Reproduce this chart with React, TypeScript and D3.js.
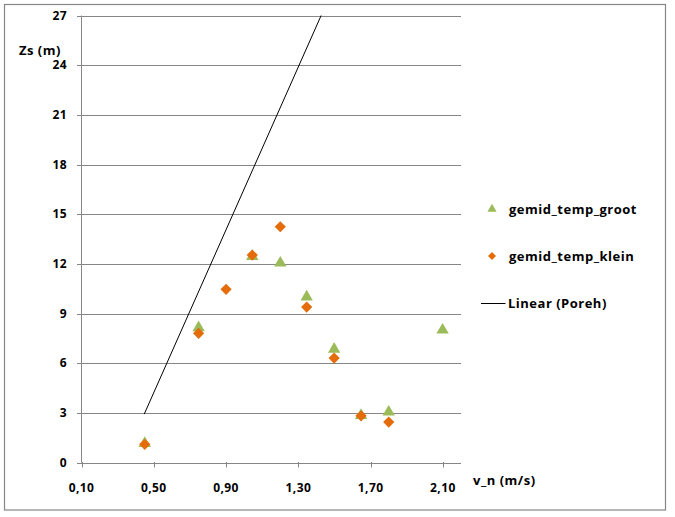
import React from "react";
import * as d3 from "d3";

const grootX = [0.45, 0.748, 1.045, 1.2, 1.346, 1.498, 1.647, 1.8, 2.098];
const grootY = [1.15, 8.15, 12.45, 12.05, 10.0, 6.85, 2.85, 3.05, 8.0];
const kleinX = [0.45, 0.748, 0.9, 1.045, 1.2, 1.346, 1.498, 1.647, 1.8];
const kleinY = [1.1, 7.8, 10.46, 12.53, 14.24, 9.39, 6.31, 2.82, 2.44];
const porehX = [0.447, 1.426];
const porehY = [2.92, 27];
const xTicks = [0.1, 0.5, 0.9, 1.3, 1.7, 2.1];
const yTicks = [0, 3, 6, 9, 12, 15, 18, 21, 24, 27];
const seriesNames = ["gemid_temp_groot", "gemid_temp_klein", "Linear (Poreh)"];

const W = 675;
const H = 517;
const GREEN = "#9BBB59";
const ORANGE = "#E46C0A";
const GRID = "#868686";
const FONT = "'Open Sans', 'Liberation Sans', sans-serif";

export default function App() {
  const x = d3.scaleLinear().domain([0.1, 2.2]).range([81.5, 461]);
  const y = d3.scaleLinear().domain([0, 27]).range([462.5, 15.5]);
  const fmt = (v: number) => d3.format(".2f")(v).replace(".", ",");
  const tri = d3.symbol().type(d3.symbolTriangle).size(66);
  const dia = (s: number) => `M0,${-s}L${s},0L0,${s}L${-s},0Z`;
  const triLeg = d3.symbol().type(d3.symbolTriangle).size(36);
  const line = d3
    .line<number>()
    .x((_, i) => x(porehX[i]))
    .y((_, i) => y(porehY[i]));

  const labelProps = { fontSize: 13, fontWeight: "bold", fill: "#000", letterSpacing: 0.5 } as const;

  return (
    <svg
      width={W}
      height={H}
      style={{ position: "absolute", left: 0, top: 0, background: "#fff" }}
      fontFamily={FONT}
    >
      <rect x={0} y={0} width={W} height={H} fill="#fff" />
      <rect x={4.5} y={4.5} width={661} height={505.5} fill="none" stroke={GRID} strokeWidth={1.2} />
      {yTicks.map((t) => (
        <g key={t}>
          <line x1={77} x2={461} y1={Math.round(y(t)) + 0.5} y2={Math.round(y(t)) + 0.5} stroke={GRID} strokeWidth={1} />
          <text x={67} y={y(t)} dy="0.35em" textAnchor="end" fontSize={12} fontWeight="bold" fill="#000" letterSpacing={0.4}>
            {t}
          </text>
        </g>
      ))}
      <line x1={81.5} x2={81.5} y1={15.5} y2={462.5} stroke={GRID} strokeWidth={1} />
      {xTicks.map((t) => (
        <g key={t}>
          <line x1={Math.round(x(t)) + 0.5} x2={Math.round(x(t)) + 0.5} y1={462} y2={467.5} stroke={GRID} strokeWidth={1} />
          <text x={x(t)} y={488} dy="0.35em" textAnchor="middle" fontSize={12} fontWeight="bold" fill="#000" letterSpacing={0.4}>
            {fmt(t)}
          </text>
        </g>
      ))}
      <text x={19} y={50} dy="0.35em" {...labelProps}>
        Zs (m)
      </text>
      <text x={473} y={480} dy="0.35em" {...labelProps}>
        v_n (m/s)
      </text>
      <path d={line(porehX) || ""} fill="none" stroke="#000" strokeWidth={1} />
      {grootX.map((v, i) => (
        <path key={"g" + i} d={tri() || ""} transform={`translate(${x(v)},${y(grootY[i])})`} fill={GREEN} />
      ))}
      {kleinX.map((v, i) => (
        <path key={"k" + i} d={dia(5.6)} transform={`translate(${x(v)},${y(kleinY[i])})`} fill={ORANGE} />
      ))}
      <path d={triLeg() || ""} transform="translate(492,209)" fill={GREEN} />
      <text x={509} y={209} dy="0.35em" {...labelProps}>
        {seriesNames[0]}
      </text>
      <path d={dia(4)} transform="translate(492,256)" fill={ORANGE} />
      <text x={509} y={256} dy="0.35em" {...labelProps}>
        {seriesNames[1]}
      </text>
      <line x1={481} x2={505.5} y1={303.5} y2={303.5} stroke="#000" strokeWidth={1} />
      <text x={508} y={303} dy="0.35em" {...labelProps}>
        {seriesNames[2]}
      </text>
    </svg>
  );
}
